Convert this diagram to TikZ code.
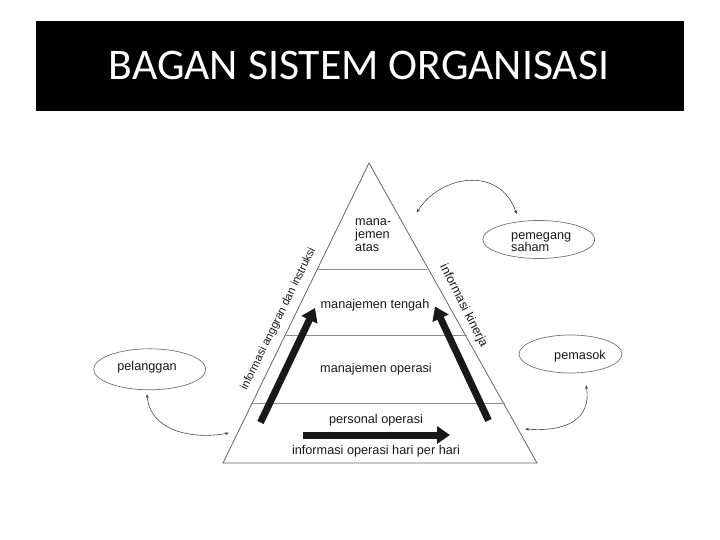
\documentclass[tikz,border=0pt]{standalone}
\usepackage{fontspec}
\setmainfont{Liberation Sans}
\newfontfamily\titlefont{Carlito}
\usetikzlibrary{arrows.meta,shapes.geometric}
\tikzset{
  lbl/.style={text=black!90, inner sep=0pt, font=\fontsize{12.7}{12.7}\selectfont},
  oval/.style={draw=black!55, line width=0.7pt, ellipse, inner sep=0pt},
  level/.style={draw=black!45, line width=0.8pt},
  bigarrow/.style={draw=black!90, line width=7pt, -{Triangle[length=13pt,width=17pt]}},
  thinarrow/.style={draw=black!70, line width=0.6pt, {Stealth[length=4pt,width=3pt]}-{Stealth[length=4pt,width=3pt]}},
}
\begin{document}
\begin{tikzpicture}[x=1pt,y=-1pt]
\useasboundingbox (0,0) rectangle (720,540);
\fill[white] (0,0) rectangle (720,540);
% title bar
\fill[black] (36,21) rectangle (684,111.5);
\node[text=white, inner sep=0pt, anchor=base, font=\titlefont\fontsize{43.7}{44}\selectfont] (title) at (359,80) {BAGAN SISTEM ORGANISASI};
% pyramid
\coordinate (apex) at (369,163);
\coordinate (bl) at (223,463);
\coordinate (br) at (537,463);
\draw[draw=black!60, line width=0.8pt, line join=miter] (apex) -- (bl) -- (br) -- cycle;
\coordinate (l1a) at (317,269); \coordinate (l1b) at (427,269);
\coordinate (l2a) at (285,335.5); \coordinate (l2b) at (467,335.5);
\coordinate (l3a) at (251,403); \coordinate (l3b) at (505,403);
\draw[level] (l1a) -- (l1b);
\draw[level] (l2a) -- (l2b);
\draw[level] (l3a) -- (l3b);
% level texts
\node[lbl, anchor=west, align=left] (atas) at (355,235) {mana-\\jemen\\atas};
\node[lbl] (tengah) at (375,305) {manajemen tengah};
\node[lbl] (operasi) at (376,369.5) {manajemen operasi};
\node[lbl] (personal) at (376,420.5) {personal operasi};
\node[lbl] (harian) at (376,451.5) {informasi operasi hari per hari};
% side labels
\node[lbl, font=\fontsize{11.3}{11.3}\selectfont, rotate=64] (anggaran) at (278.5,319) {informasi anggran dan instruksi};
\node[lbl, font=\fontsize{12.5}{12.5}\selectfont, rotate=-63] (kinerja) at (463.5,306) {informasi kinerja};
% big arrows
\coordinate (h0) at (303,435); \coordinate (h1) at (450,435);
\coordinate (a0) at (260.5,422.5); \coordinate (a1) at (315,308);
\coordinate (b0) at (488.5,420.5); \coordinate (b1) at (435,306.5);
\draw[bigarrow] (h0) -- (h1);
\draw[bigarrow] (a0) -- (a1);
\draw[bigarrow] (b0) -- (b1);
% ellipses
\node[oval, minimum width=112pt, minimum height=41pt] (pelanggan) at (149.7,369.3) {};
\node[lbl] (pelangganT) at (147,367.3) {pelanggan};
\node[oval, minimum width=112pt, minimum height=38pt] (pemegang) at (538.8,239.5) {};
\node[lbl, anchor=west, align=left, font=\fontsize{12.7}{12.4}\selectfont] (pemegangT) at (511,242.3) {pemegang\\saham};
\node[oval, minimum width=103pt, minimum height=38pt] (pemasok) at (570.5,354) {};
\node[lbl] (pemasokT) at (580,356) {pemasok};
% curved thin arrows
\coordinate (c1a) at (416.7,212.7); \coordinate (c1b) at (516.7,214.3);
\draw[thinarrow] (c1a) .. controls (440,175) and (500,165) .. (c1b);
\coordinate (c2a) at (147,394); \coordinate (c2b) at (229,433);
\draw[thinarrow] (c2a) .. controls (150,430) and (190,440) .. (c2b);
\coordinate (c3a) at (586,385); \coordinate (c3b) at (525,429);
\draw[thinarrow] (c3a) .. controls (592,420) and (565,432) .. (c3b);
\end{tikzpicture}
\end{document}
